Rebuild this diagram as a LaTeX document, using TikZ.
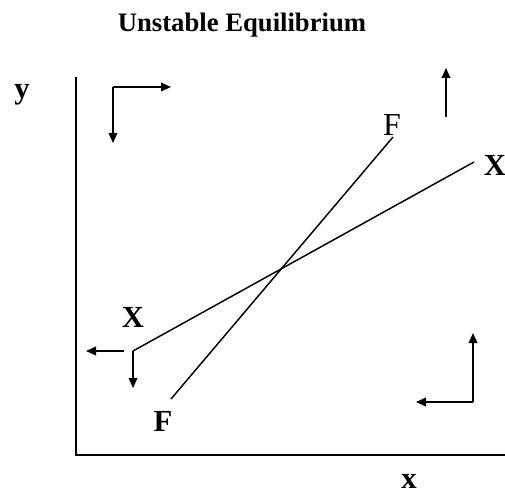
\documentclass[tikz,border=0pt]{standalone}
\usepackage{fontspec}
\setmainfont{Liberation Serif}
\usetikzlibrary{arrows.meta}
\begin{document}
\begin{tikzpicture}[x=0.75pt,y=-0.75pt,
  axis/.style={line width=1.6pt},
  curve/.style={line width=1.1pt},
  motion/.style={line width=1.1pt,-{Triangle[length=7.5pt,width=6.5pt]}},
  lbl/.style={font=\fontsize{23}{26}\selectfont\bfseries,anchor=base,inner sep=0pt},
  lbln/.style={font=\fontsize{24}{27}\selectfont,anchor=base,inner sep=0pt}]
\useasboundingbox (0,0) rectangle (505,495);
\node[font=\fontsize{20}{24}\selectfont\bfseries,anchor=base,inner sep=0pt] (title) at (242,32) {Unstable Equilibrium};
% axes
\coordinate (ytop) at (76,77);
\coordinate (origin) at (76,455);
\coordinate (xend) at (506,455);
\draw[axis] (ytop) -- (origin) -- (xend);
\node[lbl] (ylab) at (22,99) {y};
\node[lbl] (xlab) at (409,488) {x};
% F line
\coordinate (F1) at (171,399);
\coordinate (F2) at (393,137);
\draw[curve] (F1) -- (F2);
\node[lbln] (Fup) at (392,136) {F};
\node[lbl] (Flow) at (163,431) {F};
% X line
\coordinate (X1) at (133,351);
\coordinate (X2) at (474,162);
\draw[curve] (X1) -- (X2);
\node[lbl] (Xright) at (495,175) {X};
\node[lbl] (Xleft) at (133,327) {X};
% top-left arrows
\coordinate (c1) at (113,87);
\coordinate (c1r) at (171,87);
\coordinate (c1d) at (113,143);
\draw[motion] (c1) -- (c1r);
\draw[motion] (c1) -- (c1d);
% top-right arrow
\coordinate (c2) at (446,117);
\coordinate (c2u) at (446,68);
\draw[motion] (c2) -- (c2u);
% near X lower end
\coordinate (c3s) at (124,351);
\coordinate (c3l) at (86,351);
\coordinate (c3d) at (133,388);
\draw[motion] (c3s) -- (c3l);
\draw[motion] (X1) -- (c3d);
% bottom-right arrows
\coordinate (c4) at (473,402);
\coordinate (c4u) at (473,333);
\coordinate (c4l) at (416,402);
\draw[motion] (c4) -- (c4u);
\draw[motion] (c4) -- (c4l);
\end{tikzpicture}
\end{document}
